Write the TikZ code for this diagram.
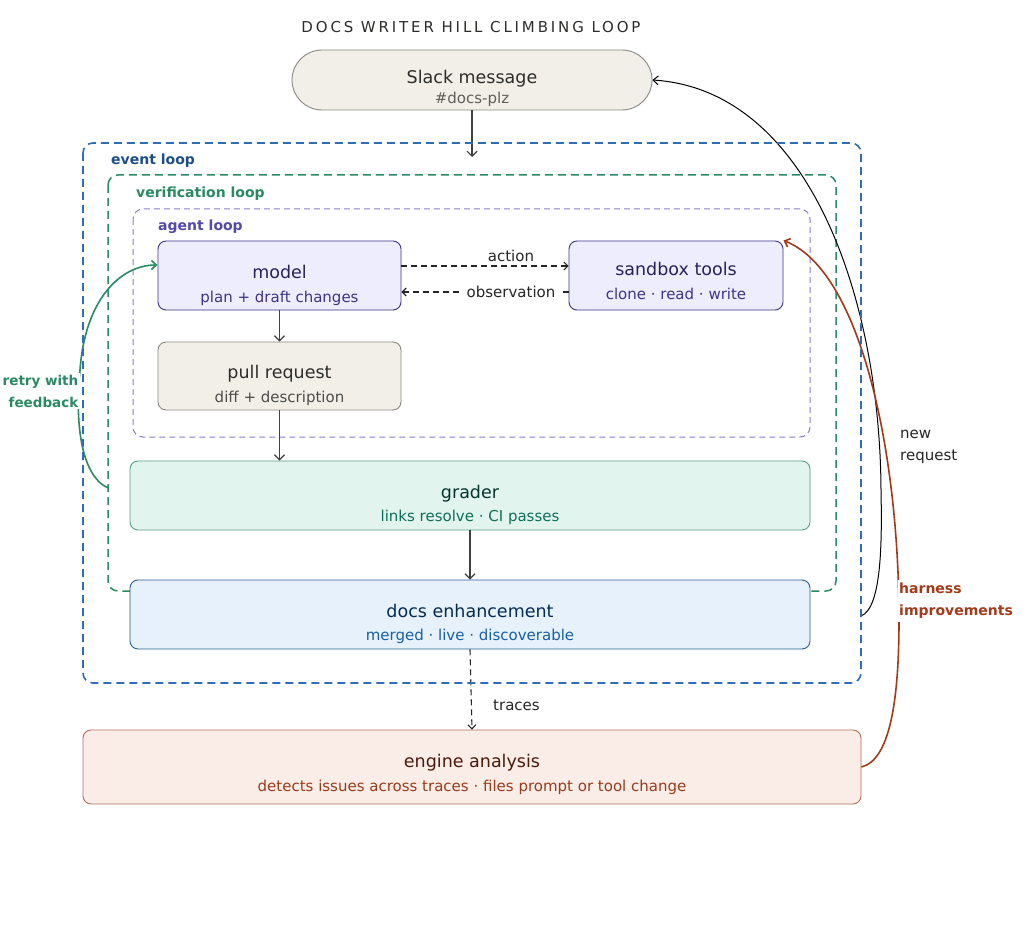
\documentclass[tikz,border=0pt]{standalone}
\usepackage{fontspec}
\setmainfont{DejaVu Sans}
\usetikzlibrary{arrows.meta}
\definecolor{evblue}{HTML}{2F6DB5}
\definecolor{evtext}{HTML}{1D4E89}
\definecolor{vgreen}{HTML}{2A8A63}
\definecolor{apurple}{HTML}{8C7BD0}
\definecolor{atext}{HTML}{5448A8}
\definecolor{graybox}{HTML}{F1EFE8}
\definecolor{grayline}{HTML}{8A8984}
\definecolor{graytitle}{HTML}{2C2C2A}
\definecolor{graysub}{HTML}{5F5E5A}
\definecolor{purfill}{HTML}{EEEDFE}
\definecolor{purline}{HTML}{3C3489}
\definecolor{purtitle}{HTML}{26215C}
\definecolor{pursub}{HTML}{3C3489}
\definecolor{grfill}{HTML}{E1F5EE}
\definecolor{grline}{HTML}{5A9E84}
\definecolor{grtitle}{HTML}{04342C}
\definecolor{grsub}{HTML}{0F6E56}
\definecolor{blfill}{HTML}{E6F1FB}
\definecolor{blline}{HTML}{2A5F95}
\definecolor{bltitle}{HTML}{042C53}
\definecolor{blsub}{HTML}{185FA5}
\definecolor{rdfill}{HTML}{FAECE7}
\definecolor{rdline}{HTML}{B0705A}
\definecolor{rdtitle}{HTML}{4A1B0C}
\definecolor{rdsub}{HTML}{993C1D}
\definecolor{harness}{HTML}{A33A1A}
\tikzset{
  box/.style={draw, line width=0.9pt, rounded corners=8pt, inner sep=0pt},
  ttl/.style={anchor=base, inner sep=0pt, font=\fontsize{17.5}{22}\selectfont},
  sub/.style={anchor=base, inner sep=0pt, font=\fontsize{15}{18}\selectfont},
  looplbl/.style={anchor=base west, inner sep=0pt, font=\fontsize{14}{18}\selectfont\bfseries},
  flow/.style={draw=black!75, line width=1.2pt, -{Straight Barb[length=5pt,width=10pt]}},
  dflow/.style={draw=black!85, line width=1.1pt, dash pattern=on 6pt off 4pt, -{Straight Barb[length=4pt,width=8pt]}},
  lbl/.style={inner sep=0pt, font=\fontsize{15}{18}\selectfont, text=black!85},
}
\begin{document}
\begin{tikzpicture}[x=1pt,y=-1pt]
\path[use as bounding box, fill=white] (0,0) rectangle (1028,944);

% title
\node[anchor=base, inner sep=0pt, font=\fontsize{15}{18}\selectfont\addfontfeature{LetterSpace=19}, text=graytitle] (title) at (471,33) {DOCS WRITER HILL CLIMBING LOOP};

% inner loops
\draw[vgreen, line width=1.5pt, dash pattern=on 8pt off 5pt, rounded corners=10pt] (108,175) rectangle (836,591);
\node[looplbl, text=vgreen] (vlbl) at (136,198) {verification loop};
\draw[apurple, line width=1pt, dash pattern=on 6pt off 4pt, rounded corners=10pt] (133,209) rectangle (810,437);
\node[looplbl, text=atext] (albl) at (158,231) {agent loop};

% nodes
\node[box, draw=grayline, fill=graybox, rounded corners=30pt, minimum width=360pt, minimum height=60pt] (slack) at (472,80) {};
\node[ttl, text=graytitle] (slackt) at (472,84) {Slack message};
\node[sub, text=graysub] (slacks) at (472,104) {\#docs-plz};

\node[box, draw=purline, fill=purfill, minimum width=243pt, minimum height=69pt] (model) at (279.5,275.5) {};
\node[ttl, text=purtitle] (modelt) at (279.5,278) {model};
\node[sub, text=pursub] (models) at (279.5,302) {plan + draft changes};

\node[box, draw=purline, fill=purfill, minimum width=214pt, minimum height=69pt] (sand) at (676,275.5) {};
\node[ttl, text=purtitle] (sandt) at (676,275) {sandbox tools};
\node[sub, text=pursub] (sands) at (676,299) {clone · read · write};

\node[box, draw=grayline, fill=graybox, minimum width=243pt, minimum height=68pt] (pr) at (279.5,376) {};
\node[ttl, text=graytitle] (prt) at (279.5,378) {pull request};
\node[sub, text=graytitle!85] (prs) at (279.5,402) {diff + description};

\node[box, draw=grline, fill=grfill, minimum width=680pt, minimum height=69pt] (grader) at (470,495.5) {};
\node[ttl, text=grtitle] (gradert) at (470,498) {grader};
\node[sub, text=grsub] (graders) at (470,521) {links resolve · CI passes};

\node[box, draw=blline, fill=blfill, minimum width=680pt, minimum height=69pt] (docs) at (470,614.5) {};
\node[ttl, text=bltitle] (docst) at (470,617) {docs enhancement};
\node[sub, text=blsub] (docss) at (470,640) {merged · live · discoverable};

\node[box, draw=rdline, fill=rdfill, minimum width=778pt, minimum height=74pt] (engine) at (472,767) {};
\node[ttl, text=rdtitle] (enginet) at (472,767) {engine analysis};
\node[sub, text=rdsub] (engines) at (472,791) {detects issues across traces · files prompt or tool change};

% connectors
\coordinate (slackin) at (472,157);
\draw[flow] (slack.south) -- (slackin);
\draw[flow] (model.south) -- (pr.north);
\draw[flow] (pr.south) -- (pr.south |- grader.north);
\draw[flow] (grader.south) -- (docs.north);
\draw[dflow] (docs.south) -- (engine.north);
\node[lbl, anchor=west] (traces) at (493,705) {traces};

\draw[dflow] (model.east |- 0,266) -- (sand.west |- 0,266);
\node[lbl, fill=white, inner xsep=4pt, inner ysep=3pt] (action) at (511,256) {action};
\draw[dflow] (sand.west |- 0,292) -- (model.east |- 0,292);
\node[lbl, fill=white, inner xsep=4pt, inner ysep=2pt] (obs) at (511,292) {observation};

% retry with feedback
\coordinate (retrys) at (108,488);
\draw[vgreen, line width=1.6pt, -{Straight Barb[length=5pt,width=9pt]}] (retrys) .. controls (80,475) and (75,420) .. (80,370) .. controls (85,300) and (120,265) .. (model.west |- 0,265);
\node[anchor=east, align=right, fill=white, inner xsep=2pt, inner ysep=2pt, font=\fontsize{13.5}{22}\selectfont\bfseries, text=vgreen] (retry) at (80.5,391) {retry with\\feedback};

% new request
\coordinate (nrs) at (861,616);
\draw[black, line width=1pt, -{Straight Barb[length=5pt,width=9pt]}] (nrs) .. controls (882,608) and (882,540) .. (881,490) .. controls (880,300) and (810,90) .. (slack.east);
\node[anchor=west, align=left, inner sep=0pt, font=\fontsize{15}{22}\selectfont, text=black!85] (newreq) at (900,447) {new\\request};

% harness improvements
\draw[harness, line width=1.6pt, -{Straight Barb[length=5pt,width=9pt]}] (engine.east) .. controls (890,760) and (899,700) .. (899,620) .. controls (899,450) and (860,270) .. (sand.north east);
\node[anchor=west, align=left, fill=white, inner xsep=1pt, inner ysep=3pt, font=\fontsize{14}{22}\selectfont\bfseries, text=harness] (harn) at (898,601) {harness\\improvements};

% event loop (drawn last)
\draw[evblue, line width=1.6pt, dash pattern=on 8pt off 5pt, rounded corners=10pt] (83,143) rectangle (861,683);
\node[looplbl, text=evtext] (elbl) at (111,165) {event loop};
\end{tikzpicture}
\end{document}
